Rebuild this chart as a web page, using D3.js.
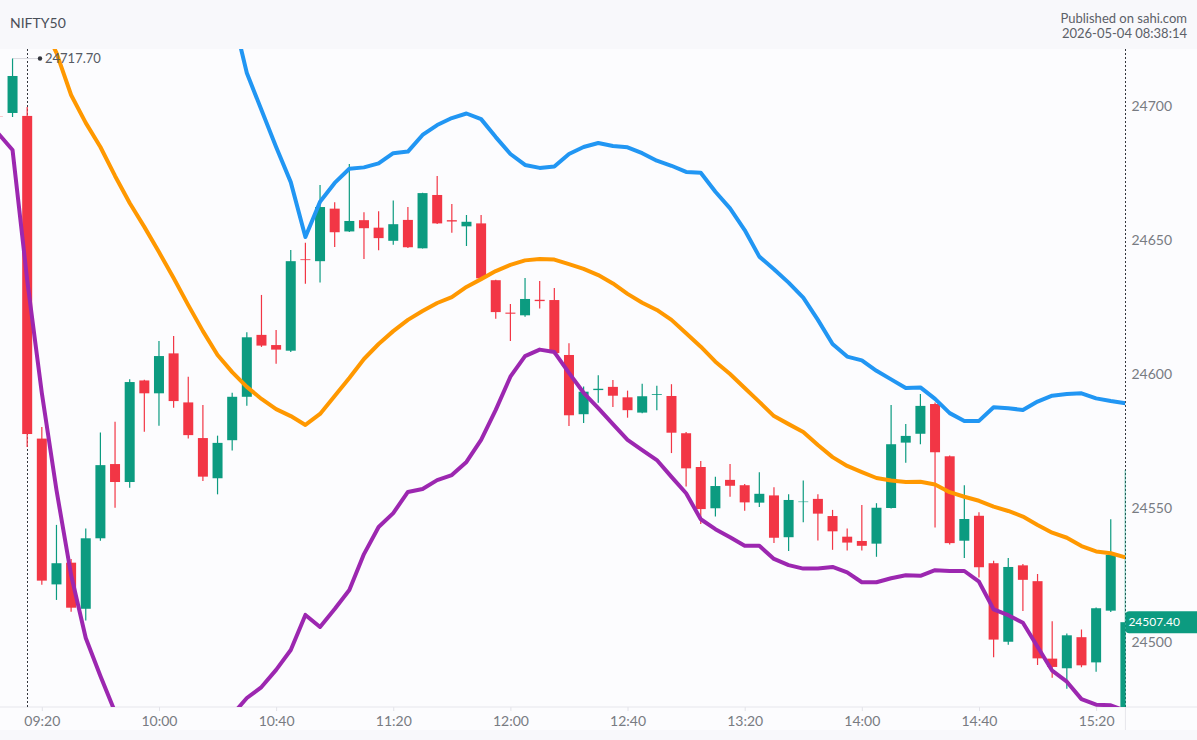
<!DOCTYPE html>
<html>
<head>
<meta charset="utf-8">
<script src="https://cdn.jsdelivr.net/npm/d3@7/dist/d3.min.js"></script>
<style>
html, body { margin: 0; padding: 0; background: #fcfcfe; overflow: hidden; }
svg { display: block; font-family: Lato, sans-serif; }
</style>
</head>
<body>
<svg id="chart" width="1197" height="740"></svg>
<script>
var times = ["p15:25","p15:30",
  "09:15","09:20","09:25","09:30","09:35","09:40","09:45","09:50","09:55","10:00","10:05","10:10",
  "10:15","10:20","10:25","10:30","10:35","10:40","10:45","10:50","10:55","11:00","11:05","11:10",
  "11:15","11:20","11:25","11:30","11:35","11:40","11:45","11:50","11:55","12:00","12:05","12:10",
  "12:15","12:20","12:25","12:30","12:35","12:40","12:45","12:50","12:55","13:00","13:05","13:10",
  "13:15","13:20","13:25","13:30","13:35","13:40","13:45","13:50","13:55","14:00","14:05","14:10",
  "14:15","14:20","14:25","14:30","14:35","14:40","14:45","14:50","14:55","15:00","15:05","15:10",
  "15:15","15:20","15:25","15:30"];

var opens = [24696.1,24697.4,
  24696.3,24575.9,24521.5,24529.6,24512.4,24538.7,24566.4,24559.7,24597.6,24592.8,24607.7,24589.4,
  24576.1,24561.1,24575.3,24591.5,24614.6,24610.8,24608.7,24642.8,24642.1,24661.7,24653.2,24657.4,
  24654.6,24649.7,24657.5,24646.9,24666.8,24657.4,24655.1,24656.2,24635.0,24622.9,24621.9,24627.7,
  24627.6,24607.1,24585.0,24594.0,24595.2,24591.3,24585.6,24592.2,24591.8,24577.9,24565.3,24549.9,
  24560.5,24558.5,24552.0,24554.7,24539.1,24552.2,24553.4,24547.0,24539.3,24537.7,24536.7,24550.0,
  24574.4,24577.7,24588.8,24569.3,24537.8,24547.1,24529.4,24500.1,24528.6,24522.7,24493.8,24490.2,
  24501.8,24492.4,24511.7,24470.0];

var highs = [24698.0,24717.7,
  24699.6,24580.2,24543.7,24531.0,24542.4,24578.2,24582.2,24598.0,24597.9,24612.3,24614.2,24599.0,
  24588.4,24577.0,24593.0,24615.6,24629.5,24616.4,24646.3,24649.0,24670.5,24664.1,24678.4,24660.4,
  24660.7,24664.7,24662.3,24667.6,24673.9,24663.4,24659.3,24659.3,24635.2,24626.1,24635.8,24634.7,
  24632.1,24611.5,24595.3,24599.5,24597.8,24593.8,24596.4,24595.6,24596.2,24578.4,24567.5,24561.7,
  24566.4,24559.0,24563.3,24557.7,24555.1,24560.3,24555.1,24549.3,24542.4,24551.1,24551.8,24588.4,
  24581.3,24592.5,24589.4,24569.6,24558.5,24548.4,24530.3,24531.3,24529.1,24525.4,24507.7,24503.2,
  24504.7,24512.9,24545.8,24564.2];

var lows = [24694.0,24695.9,
  24572.8,24521.4,24515.7,24511.3,24508.0,24537.8,24550.1,24557.6,24578.5,24580.7,24587.4,24575.9,
  24560.1,24555.1,24571.5,24588.2,24610.1,24603.8,24608.2,24633.7,24634.1,24647.4,24653.0,24642.9,
  24646.2,24648.2,24647.0,24646.8,24656.0,24652.7,24647.8,24635.4,24620.6,24612.3,24621.4,24624.4,
  24607.1,24580.6,24581.7,24589.3,24587.7,24583.7,24585.4,24586.5,24570.5,24558.0,24544.0,24546.8,
  24554.2,24549.0,24550.4,24536.9,24534.0,24544.7,24537.9,24534.4,24534.1,24534.1,24531.8,24549.8,
  24566.9,24573.8,24542.7,24536.4,24531.3,24524.1,24494.3,24499.0,24511.6,24491.4,24486.7,24482.6,
  24490.6,24488.9,24511.2,24465.0];

var closes = [24696.0,24711.2,
  24577.6,24522.9,24529.4,24512.8,24538.7,24566.0,24559.7,24597.0,24592.8,24606.7,24589.9,24577.2,
  24561.7,24574.3,24591.5,24613.7,24610.6,24609.1,24642.1,24642.5,24662.3,24652.9,24657.1,24654.4,
  24650.7,24655.9,24647.3,24667.5,24656.2,24656.9,24656.8,24635.7,24623.1,24622.5,24628.0,24627.2,
  24607.8,24584.6,24593.4,24594.5,24591.9,24586.5,24591.7,24592.5,24578.1,24564.8,24549.6,24558.2,
  24558.3,24552.1,24555.3,24538.9,24553.0,24552.4,24547.9,24541.3,24537.1,24535.9,24550.1,24573.8,
  24576.9,24588.1,24570.8,24536.9,24545.9,24527.9,24500.9,24528.0,24523.2,24493.9,24490.7,24502.5,
  24491.3,24512.6,24532.5,24507.4];

// null where the band runs off the visible price range
var upperBand = [null,null,
  null,null,null,null,null,null,null,null,null,null,null,null,
  null,null,24735.1,24712.3,24698.5,24684.7,24671.6,24651.1,24664.3,24671.3,24676.6,24677.1,
  24678.6,24682.4,24683.0,24689.2,24692.9,24695.5,24697.2,24695.1,24688.4,24682.1,24678.0,24676.9,
  24677.4,24682.1,24684.7,24686.2,24685.1,24684.6,24682.4,24679.6,24677.7,24675.4,24675.1,24668.0,
  24661.8,24653.7,24643.8,24639.1,24634.1,24628.5,24620.2,24611.2,24606.5,24605.1,24601.2,24598.0,
  24594.8,24595.0,24590.7,24585.4,24582.5,24582.5,24587.6,24587.2,24586.6,24589.7,24591.9,24592.5,
  24592.8,24590.9,24589.9,24589.1];

var middleBand = [null,null,
  null,24731.3,24719.8,24704.1,24693.7,24684.7,24673.9,24663.8,24654.9,24645.5,24635.8,24625.7,
  24616.0,24607.1,24600.7,24595.2,24590.7,24586.9,24584.3,24581.0,24585.1,24591.8,24598.5,24605.6,
  24611.2,24616.0,24620.2,24623.5,24626.5,24628.7,24632.5,24635.4,24638.4,24640.7,24642.4,24642.9,
  24642.7,24641.0,24639.2,24636.9,24633.8,24629.9,24626.6,24623.9,24620.2,24615.2,24610.2,24604.6,
  24600.0,24594.8,24589.6,24584.3,24581.3,24578.4,24573.5,24569.0,24565.7,24563.4,24561.2,24560.3,
  24559.7,24559.8,24558.8,24555.9,24554.2,24552.7,24550.5,24548.9,24546.8,24543.7,24540.8,24538.9,
  24535.8,24533.8,24533.1,24531.6];

var lowerBand = [24689.9,24683.6,
  24635.1,24592.9,24556.7,24525.0,24501.5,24487.3,24473.9,24463.4,null,null,null,null,
  null,null,24472.8,24479.1,24483.2,24489.6,24497.0,24510.1,24505.6,24512.3,24519.4,24532.8,
  24542.9,24548.1,24556.0,24557.1,24560.4,24562.3,24567.2,24575.4,24586.6,24599.0,24606.7,24609.1,
  24608.2,24600.4,24593.0,24587.3,24581.3,24575.4,24571.6,24567.9,24561.6,24555.5,24545.8,24542.1,
  24539.1,24535.9,24535.9,24531.0,24528.7,24527.4,24527.4,24528.0,24526.0,24522.3,24522.3,24523.8,
  24524.9,24524.7,24526.8,24526.5,24526.5,24522.5,24512.2,24510.0,24507.2,24498.2,24489.3,24485.2,
  24478.7,24476.6,24476.4,24474.3];

var priceTicks = [24500, 24550, 24600, 24650, 24700];
var timeTicks = ["09:20","10:00","10:40","11:20","12:00","12:40","13:20","14:00","14:40","15:20"];
var lastPrice = 24507.40;
var dayHigh = 24717.70;
var dayHighTime = "p15:30";
var dayBreak = "09:15";
var lastTime = "15:30";

var green = '#0c9b80', red = '#f23645';
var plotTop = 49, plotBottom = 707, axisBottom = 730;

var x = d3.scalePoint().domain(times).range([-2.1, 1125.4]);
var y = d3.scaleLinear().domain([24475.75, 24721.27]).range([plotBottom, plotTop]);
var plotRight = x(lastTime);

var svg = d3.select('#chart');

// page bands
svg.append('rect').attr('width', 1197).attr('height', 740).attr('fill', '#fcfcfe');
svg.append('rect').attr('width', 1197).attr('height', plotTop).attr('fill', '#f8f8fb');
svg.append('rect').attr('y', axisBottom).attr('width', 1197).attr('height', 740 - axisBottom).attr('fill', '#f8f8fb');

svg.append('text').attr('x', 10).attr('y', 28).attr('font-size', 14).attr('fill', '#4a4f58').text('NIFTY50');
svg.append('text').attr('x', 1187).attr('y', 22.5).attr('text-anchor', 'end').attr('font-size', 13).attr('fill', '#5c6068').text('Published on sahi.com');
svg.append('text').attr('x', 1187).attr('y', 37.5).attr('text-anchor', 'end').attr('font-size', 13).attr('fill', '#5c6068').text('2026-05-04 08:38:14');

// axes
var xAxis = d3.axisBottom(x).tickValues(timeTicks).tickSize(4).tickPadding(5).tickSizeOuter(0);
var gx = svg.append('g').attr('transform', 'translate(0,' + plotBottom + ')').call(xAxis);
gx.select('.domain').remove();
gx.selectAll('line').attr('stroke', '#e2e2e8');
gx.selectAll('text').attr('font-family', 'Lato').attr('font-size', 14).attr('fill', '#787b82');

var yAxis = d3.axisRight(y).tickValues(priceTicks).tickSize(0).tickPadding(6).tickFormat(d3.format('d'));
var gy = svg.append('g').attr('transform', 'translate(' + plotRight + ',0)').call(yAxis);
gy.select('.domain').remove();
gy.selectAll('text').attr('font-family', 'Lato').attr('font-size', 14).attr('fill', '#787b82');

svg.append('line').attr('x1', 0).attr('x2', 1197).attr('y1', plotBottom).attr('y2', plotBottom).attr('stroke', '#e6e6eb').attr('stroke-width', 1.2);
svg.append('line').attr('x1', plotRight).attr('x2', plotRight).attr('y1', plotBottom).attr('y2', axisBottom).attr('stroke', '#e6e6eb');

// session break and last bar markers
[dayBreak, lastTime].forEach(function(t) {
    var px = Math.floor(x(t)) + 0.5;
    svg.append('line').attr('x1', px).attr('x2', px).attr('y1', plotTop).attr('y2', plotBottom)
        .attr('stroke', '#33363d').attr('stroke-width', 1).attr('stroke-dasharray', '2,2');
});

svg.append('clipPath').attr('id', 'plotClip').append('rect')
    .attr('x', 0).attr('y', plotTop).attr('width', plotRight).attr('height', plotBottom - plotTop);

var plot = svg.append('g').attr('clip-path', 'url(#plotClip)');

// session high marker sits behind the candles
plot.append('line').attr('x1', x(dayHighTime)).attr('x2', 40).attr('y1', y(dayHigh)).attr('y2', y(dayHigh))
    .attr('stroke', '#d8d8de').attr('stroke-width', 1);

var bars = times.map(function(t, i) {
    return { t: t, o: opens[i], h: highs[i], l: lows[i], c: closes[i] };
});
function barColor(d) { return d.c >= d.o ? green : red; }

plot.selectAll('line.wick').data(bars).enter().append('line').attr('class', 'wick')
    .attr('x1', function(d) { return x(d.t); })
    .attr('x2', function(d) { return x(d.t); })
    .attr('y1', function(d) { return y(d.h); })
    .attr('y2', function(d) { return y(d.l); })
    .attr('stroke', barColor)
    .attr('stroke-width', 1.2);

plot.selectAll('rect.body').data(bars).enter().append('rect').attr('class', 'body')
    .attr('x', function(d) { return x(d.t) - 5; })
    .attr('width', 10)
    .attr('y', function(d) { return y(Math.max(d.o, d.c)); })
    .attr('height', function(d) { return Math.abs(y(d.o) - y(d.c)); })
    .attr('fill', barColor);

// bands
var bandLine = d3.line()
    .defined(function(d) { return d.v !== null; })
    .x(function(d) { return x(d.t); })
    .y(function(d) { return y(d.v); });

function drawBand(values, color) {
    plot.append('path')
        .datum(values.map(function(v, i) { return { t: times[i], v: v }; }))
        .attr('d', bandLine)
        .attr('fill', 'none')
        .attr('stroke', color)
        .attr('stroke-width', 4)
        .attr('stroke-linejoin', 'round');
}
drawBand(upperBand, '#2196f3');
drawBand(middleBand, '#ff9800');
drawBand(lowerBand, '#9c27b0');

// session high label
svg.append('circle').attr('cx', 40).attr('cy', y(dayHigh)).attr('r', 2.2).attr('fill', '#33363d');
svg.append('text').attr('x', 45).attr('y', y(dayHigh)).attr('dy', '0.36em').attr('font-size', 13)
    .attr('fill', '#555a63').text(dayHigh.toFixed(2));

// last price tag
svg.append('rect').attr('x', plotRight).attr('y', y(lastPrice) - 11).attr('width', 90).attr('height', 22)
    .attr('rx', 4).attr('fill', green);
svg.append('text').attr('x', plotRight + 3).attr('y', y(lastPrice)).attr('dy', '0.36em').attr('font-size', 12)
    .attr('fill', '#ffffff').text(lastPrice.toFixed(2));
</script>
</body>
</html>
